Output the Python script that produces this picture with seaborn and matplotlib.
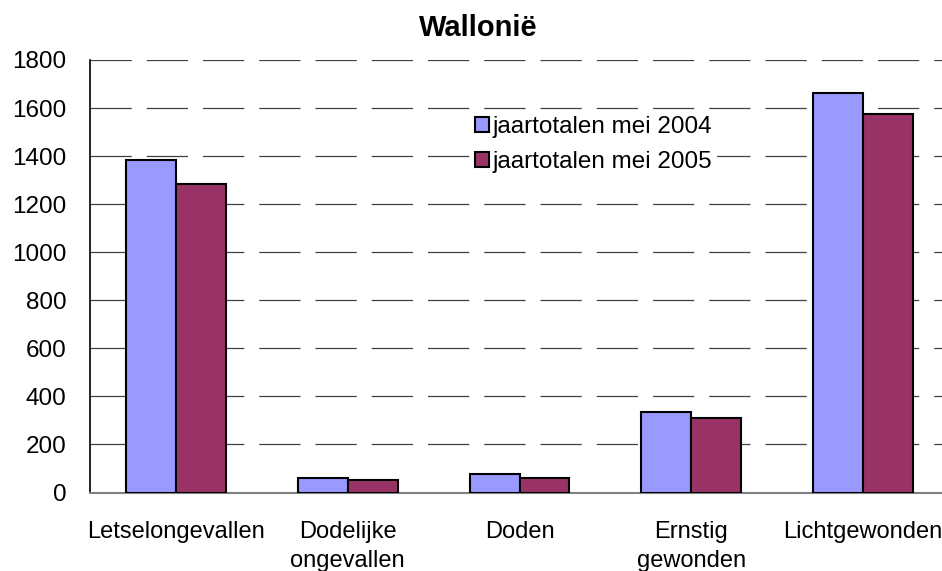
import numpy as np
import pandas as pd
import matplotlib
matplotlib.use("Agg")
import matplotlib.pyplot as plt
import seaborn as sns

# Data
categories = ["Letselongevallen", "Dodelijke\nongevallen", "Doden", "Ernstig\ngewonden", "Lichtgewonden"]
series = ["jaartotalen mei 2004", "jaartotalen mei 2005"]
values_2004 = [1383, 60, 77, 337, 1662]
values_2005 = [1282, 52, 60, 312, 1575]
colors = ["#9999FF", "#993366"]

df = pd.DataFrame({
    "categorie": categories * 2,
    "reeks": [series[0]] * 5 + [series[1]] * 5,
    "waarde": values_2004 + values_2005,
})

sns.set_style("white")
plt.rcParams["font.family"] = ["Liberation Sans", "DejaVu Sans"]
plt.rcParams["text.color"] = "black"
plt.rcParams["ytick.color"] = "black"

fig = plt.figure(figsize=(9.42, 5.71), dpi=100)
ax = fig.add_axes([90 / 942, 78.5 / 571, 859 / 942, 432.5 / 571])

sns.barplot(data=df, x="categorie", y="waarde", hue="reeks", palette=colors,
            width=0.58, edgecolor="black", linewidth=1.5, saturation=1,
            ax=ax, zorder=3)

ax.set_ylim(0, 1800)
ax.set_xlim(-0.5, 4.5)
ax.set_yticks(np.arange(0, 1801, 200))
ax.set_xticks(np.arange(-0.5, 4.6, 1))
ax.set_xticklabels([])
ax.tick_params(axis="x", length=8, color="#808080", width=1.2, direction="out")
ax.tick_params(axis="y", length=7, color="#606060", width=1, direction="out",
               labelsize=17.5, pad=10, labelcolor="black")
ax.set_xlabel("")
ax.set_ylabel("")

for i, c in enumerate(categories):
    ax.text(i, -0.065, c, transform=ax.get_xaxis_transform(), ha="center", va="top",
            fontsize=17, linespacing=1.45)

for y in range(200, 1801, 200):
    ax.axhline(y, color="#404040", linewidth=0.9, dashes=(33, 12), zorder=1)

for s in ["top", "right"]:
    ax.spines[s].set_visible(False)
ax.spines["left"].set_color("black")
ax.spines["left"].set_linewidth(1.2)
ax.spines["bottom"].set_color("#808080")
ax.spines["bottom"].set_linewidth(1.5)

leg = ax.legend(loc="center left", bbox_to_anchor=(0.442, 0.805), frameon=True,
                fontsize=17.5, handlelength=0.58, handleheight=0.58, handletextpad=0.15,
                labelspacing=0.55, borderpad=0.2, borderaxespad=0, fancybox=False)
leg.get_frame().set_facecolor("white")
leg.get_frame().set_edgecolor("none")
leg.get_frame().set_alpha(1)
leg.set_zorder(5)
for h in leg.legend_handles:
    h.set_edgecolor("black")
    h.set_linewidth(1.5)

fig.text(478 / 942, 1 - 36 / 571, "Wallonië", ha="center", va="baseline",
         fontsize=21, fontweight="bold")

fig.savefig("out.png", dpi=100)
